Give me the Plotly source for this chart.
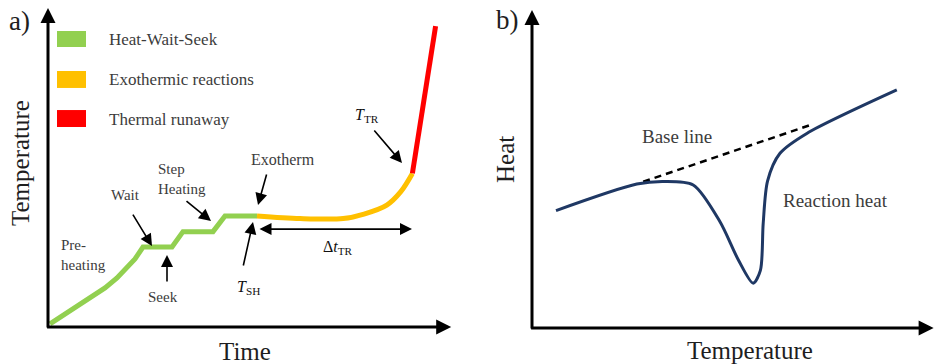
import plotly.graph_objects as go

# ---- panel a): temperature history of an accelerating-rate calorimeter test ----
time_hws = [0.5, 5.5, 10.5, 14.25, 17.25, 19.75, 21.75, 23.75, 31, 33.75, 41.25, 44.25, 52.25]
temp_hws = [1, 5, 8.75, 12.2, 15.3, 18.4, 21.25, 25, 25, 29.8, 29.8, 34.7, 34.7]
time_exo = [52.25, 63, 73.8, 79, 84.7, 88.2, 91.1]
temp_exo = [34.7, 33.9, 33.9, 35.3, 38.1, 42.3, 48]
time_tr = [91.1, 94, 96.9]
temp_tr = [48, 71, 94]

legend_labels = ["Heat-Wait-Seek", "Exothermic reactions", "Thermal runaway"]
phase_colors = ["#92d050", "#ffc000", "#ff0000"]

# ---- panel b): heat signal with a reaction peak ----
temp_b = [6, 26.2, 33, 40.3, 47, 51.6, 55.3, 57.1, 57.8, 58.9, 62, 68.7, 91.2]
heat_b = [36.7, 45, 45.8, 44.7, 33.2, 21.25, 14, 18, 32.7, 46, 54.6, 60.8, 74.4]
base_temp = [27.8, 69.5]
base_heat = [45.7, 63.4]

SERIF = '"Liberation Serif", "DejaVu Serif", serif'
LABEL = "#3c3c3c"
AXIS = "#1e1e1e"
NAVY = "#1f3864"

fig = go.Figure()

fig.add_trace(go.Scatter(x=time_hws, y=temp_hws, mode="lines",
                         line=dict(color=phase_colors[0], width=5),
                         xaxis="x", yaxis="y", hoverinfo="skip"))
fig.add_trace(go.Scatter(x=time_exo, y=temp_exo, mode="lines",
                         line=dict(color=phase_colors[1], width=5, shape="spline", smoothing=0.9),
                         xaxis="x", yaxis="y", hoverinfo="skip"))
fig.add_trace(go.Scatter(x=time_tr, y=temp_tr, mode="lines",
                         line=dict(color=phase_colors[2], width=5),
                         xaxis="x", yaxis="y", hoverinfo="skip"))

fig.add_trace(go.Scatter(x=base_temp, y=base_heat, mode="lines",
                         line=dict(color="black", width=2.5, dash="7px,5px"),
                         xaxis="x2", yaxis="y2", hoverinfo="skip"))
fig.add_trace(go.Scatter(x=temp_b, y=heat_b, mode="lines",
                         line=dict(color=NAVY, width=3, shape="spline", smoothing=0.8),
                         xaxis="x2", yaxis="y2", hoverinfo="skip"))

shapes = []
annotations = []

# legend swatches and labels for panel a)
box_y = [(87.5, 92.5), (74.7, 80), (62.5, 67.8)]
text_y = [90, 77.2, 64.7]
for (y0, y1), ty, lab, col in zip(box_y, text_y, legend_labels, phase_colors):
    shapes.append(dict(type="rect", xref="x", yref="y", x0=2.25, x1=9.5, y0=y0, y1=y1,
                       fillcolor=col, line=dict(width=0)))
    annotations.append(dict(xref="x", yref="y", x=14.75, y=ty, text=lab, showarrow=False,
                            xanchor="left", yanchor="middle",
                            font=dict(family=SERIF, size=17, color=LABEL)))


def arrow(xr, yr, tail, head, width=1.6, size=1.5, start=False):
    annotations.append(dict(xref=xr, yref=yr, axref=xr, ayref=yr,
                            x=head[0], y=head[1], ax=tail[0], ay=tail[1],
                            text="", showarrow=True, arrowhead=2, arrowsize=size,
                            arrowwidth=width, arrowcolor="black",
                            startarrowhead=2 if start else None,
                            arrowside="end+start" if start else "end",
                            startarrowsize=size, standoff=0, startstandoff=0))


def label(xr, yr, x, y, text, size=15, color=LABEL, **kw):
    kw.setdefault("xanchor", "center")
    kw.setdefault("yanchor", "middle")
    annotations.append(dict(xref=xr, yref=yr, x=x, y=y, text=text, showarrow=False,
                            font=dict(family=SERIF, size=size, color=color), **kw))


# axis arrows
arrow("x", "y", (0, -0.6), (0, 99.7), width=3, size=1)
arrow("x", "y", (-0.6, 0), (100.8, 0), width=3, size=1)
arrow("x2", "y2", (0, -0.6), (0, 99.4), width=3, size=1)
arrow("x2", "y2", (-0.6, 0), (100.4, 0), width=3, size=1)

# callouts in panel a)
arrow("x", "y", (21, 35.6), (26, 25.3))
arrow("x", "y", (29.75, 13.75), (29.75, 22.5))
arrow("x", "y", (34.25, 39.7), (40.75, 33.1))
arrow("x", "y", (54.75, 48.1), (52.5, 38.1))
arrow("x", "y", (48.75, 18.75), (51.25, 32.8))
arrow("x", "y", (81.25, 61.9), (88.5, 51.25))
arrow("x", "y", (52.5, 30.6), (91, 30.6), start=True)

label("x", "y", 19.25, 41.25, "Wait")
label("x", "y", 27, 46.4, "Step<br>Heating", xanchor="left", align="left")
label("x", "y", 2.75, 22.5, "Pre-<br>heating", xanchor="left", align="left")
label("x", "y", 28.75, 9.4, "Seek")
label("x", "y", 58.75, 52.2, "Exotherm", size=16)
label("x", "y", 50, 12.5, "<i>T</i><sub>SH</sub>", size=16, color="#111")
label("x", "y", 79.75, 66.25, "<i>T</i><sub>TR</sub>", size=16, color="#111")
label("x", "y", 72.5, 25, "Δ<i>t</i><sub>TR</sub>", size=16, color="#111")

# callouts in panel b)
label("x2", "y2", 36.25, 59.7, "Base line", size=19)
label("x2", "y2", 75.75, 40, "Reaction heat", size=19)

# axis titles and panel tags
label("paper", "paper", 20 / 935, 1 - 163 / 364, "Temperature", size=25, color=AXIS, textangle=-90)
label("paper", "paper", 245 / 935, 1 - 351 / 364, "Time", size=25, color=AXIS)
label("paper", "paper", 19 / 935, 1 - 21 / 364, "a)", size=27, color=AXIS)
label("paper", "paper", 505 / 935, 1 - 160 / 364, "Heat", size=25, color=AXIS, textangle=-90)
label("paper", "paper", 750 / 935, 1 - 350 / 364, "Temperature", size=25, color=AXIS)
label("paper", "paper", 507 / 935, 1 - 20 / 364, "b)", size=27, color=AXIS)

hidden = dict(visible=False, showgrid=False, zeroline=False, fixedrange=True)
fig.update_layout(
    width=935, height=364,
    margin=dict(l=0, r=0, t=0, b=0),
    paper_bgcolor="white", plot_bgcolor="white",
    showlegend=False,
    font=dict(family=SERIF),
    xaxis=dict(domain=[0, 0.5], range=[-12, 104.875], **hidden),
    yaxis=dict(domain=[0, 1], range=[-11.5625, 102.1875], **hidden),
    xaxis2=dict(domain=[0.5, 1], range=[-16.125, 100.75], anchor="y2", **hidden),
    yaxis2=dict(domain=[0, 1], range=[-11.25, 102.5], anchor="x2", **hidden),
    shapes=shapes,
    annotations=annotations,
)

fig.write_html("out.html")
